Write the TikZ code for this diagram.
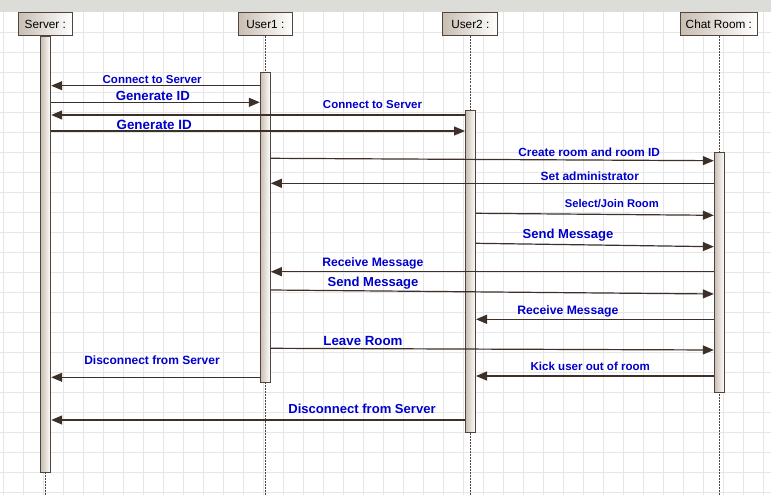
\documentclass[tikz,border=0pt]{standalone}
\usepackage{fontspec}
\setmainfont{Liberation Sans}
\usetikzlibrary{arrows.meta}
\definecolor{msgblue}{RGB}{0,0,204}
\definecolor{linec}{RGB}{60,48,40}
\definecolor{boxedge}{RGB}{80,68,60}
\definecolor{boxdark}{RGB}{200,190,178}
\definecolor{gridc}{RGB}{230,230,230}
\definecolor{topbar}{RGB}{220,220,216}
\begin{document}
\begin{tikzpicture}[x=1pt,y=-1pt,
 head/.style={draw=boxedge, line width=1pt, left color=boxdark, right color=white,
   minimum height=23.7pt, inner sep=0pt, font=\fontsize{11.8}{12}\selectfont},
 actbar/.style={draw=boxedge, line width=1pt, left color=boxdark, right color=white,
   minimum width=10pt, inner sep=0pt},
 life/.style={draw=boxedge, line width=1pt, dash pattern=on 2pt off 1pt},
 msg/.style={draw=linec, line width=1.2pt, -{Triangle[length=11pt,width=9pt]}},
 lbl/.style={text=msgblue, font=\bfseries\fontsize{#1}{#1}\selectfont, anchor=base, inner sep=0pt}]
\useasboundingbox (0,0) rectangle (771,495);
\fill[white] (0,0) rectangle (771,495);
\foreach \x in {3,23,...,763} \draw[gridc, line width=0.8pt] (\x,12) -- (\x,495);
\foreach \k in {1,...,24} \draw[gridc, line width=0.8pt] (0,12.7+20*\k) -- (771,12.7+20*\k);
\fill[topbar] (0,0) rectangle (771,12);

% heads
\node[head, minimum width=54pt] (srv) at (45.3,24.15) {Server :};
\node[head, minimum width=54pt] (u1) at (265.3,24.15) {User1 :};
\node[head, minimum width=54.7pt] (u2) at (470.3,24.15) {User2 :};
\node[head, minimum width=77.7pt] (ch) at (718.85,24.15) {Chat Room :};

% lifelines
\coordinate (srvend) at (45.5,495);
\coordinate (u1end) at (265.3,495);
\coordinate (u2end) at (470.3,495);
\coordinate (chend) at (719.3,495);
\draw[life] (srv.south -| srvend) -- (srvend);
\draw[life] (u1.south -| u1end) -- (u1end);
\draw[life] (u2.south -| u2end) -- (u2end);
\draw[life] (ch.south -| chend) -- (chend);

% activation bars
\node[actbar, minimum height=435.3pt] (srvbar) at (45.7,254.65) {};
\node[actbar, minimum height=310pt] (u1bar) at (265.3,227.3) {};
\node[actbar, minimum height=322pt] (u2bar) at (470.5,271.3) {};
\node[actbar, minimum height=240.4pt] (chbar) at (719.3,272.5) {};

% messages
\draw[msg] (u1bar.west |- 0,85.7) -- (srvbar.east |- 0,85.7);
\node[lbl=11.5] (l1) at (152.2,83.3) {Connect to Server};
\draw[msg] (srvbar.east |- 0,102.3) -- (u1bar.west |- 0,102.3);
\node[lbl=13.2] (l2) at (152.8,100) {Generate ID};
\draw[msg] (u2bar.west |- 0,115) -- (srvbar.east |- 0,115);
\node[lbl=11.5] (l3) at (372.5,108.3) {Connect to Server};
\draw[msg] (srvbar.east |- 0,131) -- (u2bar.west |- 0,131);
\node[lbl=13.4] (l4) at (154.2,129) {Generate ID};
\draw[msg] (u1bar.east |- 0,158.3) -- (chbar.west |- 0,160.7);
\node[lbl=11.8] (l5) at (589.2,156.7) {Create room and room ID};
\draw[msg] (chbar.west |- 0,183.3) -- (u1bar.east |- 0,183.3);
\node[lbl=11.95] (l6) at (589.8,180) {Set administrator};
\draw[msg] (u2bar.east |- 0,213.3) -- (chbar.west |- 0,215.3);
\node[lbl=11.2] (l7) at (611.8,207.3) {Select/Join Room};
\draw[msg] (u2bar.east |- 0,243.3) -- (chbar.west |- 0,246.7);
\node[lbl=13.05] (l8) at (568,238.6) {Send Message};
\draw[msg] (chbar.west |- 0,271.7) -- (u1bar.east |- 0,271.7);
\node[lbl=12.2] (l9) at (372.8,266) {Receive Message};
\draw[msg] (u1bar.east |- 0,290) -- (chbar.west |- 0,294);
\node[lbl=13.05] (l10) at (373,286.6) {Send Message};
\draw[msg] (chbar.west |- 0,319.3) -- (u2bar.east |- 0,319.3);
\node[lbl=12.2] (l11) at (567.8,314.4) {Receive Message};
\draw[msg] (u1bar.east |- 0,348.3) -- (chbar.west |- 0,350);
\node[lbl=13.3] (l12) at (363,345.7) {Leave Room};
\draw[msg] (chbar.west |- 0,376) -- (u2bar.east |- 0,376);
\node[lbl=11.55] (l13) at (590.3,370.7) {Kick user out of room};
\draw[msg] (u1bar.west |- 0,377.3) -- (srvbar.east |- 0,377.3);
\node[lbl=12] (l14) at (152,364.3) {Disconnect from Server};
\draw[msg] (u2bar.west |- 0,420) -- (srvbar.east |- 0,420);
\node[lbl=13.06] (l15) at (362,413.3) {Disconnect from Server};
\end{tikzpicture}
\end{document}
